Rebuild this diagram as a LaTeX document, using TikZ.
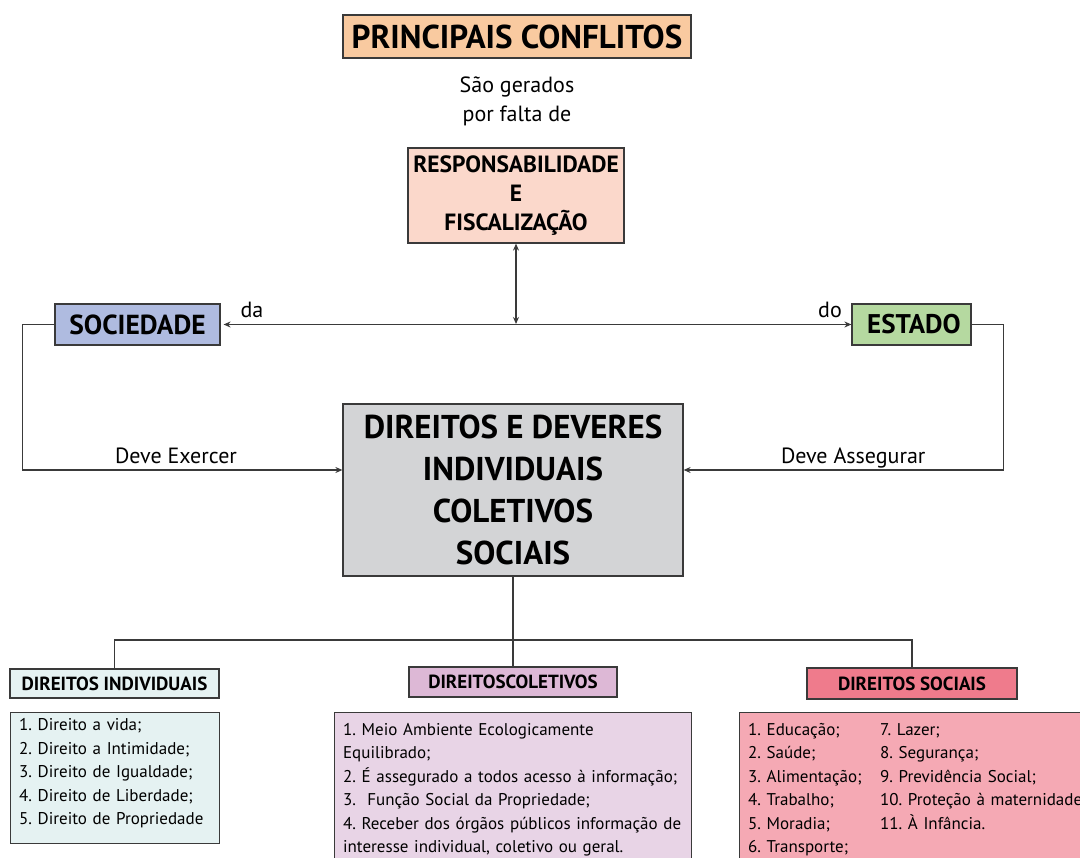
\documentclass[tikz,border=0pt]{standalone}
\usepackage{fontspec}
\setmainfont{PT Sans}
\frenchspacing
\usetikzlibrary{positioning,arrows.meta}
\definecolor{linegray}{HTML}{3A3A3A}
\definecolor{titlefill}{HTML}{F9CAA0}
\definecolor{respfill}{HTML}{FBD8CB}
\definecolor{socfill}{HTML}{AFBBE0}
\definecolor{estfill}{HTML}{B5D9A0}
\definecolor{mainfill}{HTML}{D3D4D6}
\definecolor{indfill}{HTML}{E5F2F2}
\definecolor{colfill}{HTML}{DDB8D6}
\definecolor{sochfill}{HTML}{EF7B8C}
\definecolor{collist}{HTML}{E8D4E6}
\definecolor{soclist}{HTML}{F5A9B4}
\begin{document}
\begin{tikzpicture}[x=1pt, y=-1pt,
  every node/.style = {inner sep=0pt},
  box/.style = {draw=linegray, line width=1.2pt, align=center, font=\bfseries},
  head/.style = {box, font=\bfseries\fontsize{19}{22}\selectfont},
  listbox/.style = {draw=linegray, line width=1.2pt, align=left, anchor=north west,
    inner xsep=8.5pt, inner ysep=5pt, font=\fontsize{17}{23.5}\selectfont},
  link/.style = {draw=linegray, line width=1.2pt},
  tip/.style = {-{Stealth[length=7pt,width=6pt]}},
  lbl/.style = {font=\fontsize{22}{29}\selectfont}]
 \useasboundingbox (0,0) rectangle (1080,858);
 \fill[white] (0,0) rectangle (1080,858);
 \clip (0,0) rectangle (1080,858);

 % top
 \node[box, fill=titlefill, minimum width=348pt, minimum height=43pt,
   font=\bfseries\fontsize{33}{36}\selectfont] (title) at (517,36.5) {PRINCIPAIS CONFLITOS};
 \node[lbl, align=center] (falta) at (517,101) {São gerados\\ por falta de};
 \node[box, fill=respfill, minimum width=216pt, minimum height=95pt,
   font=\bfseries\fontsize{23.5}{29}\selectfont] (resp) at (516,195.5)
   {RESPONSABILIDADE\\ E\\ FISCALIZAÇÃO};

 % sociedade / estado
 \node[box, fill=socfill, minimum width=165pt, minimum height=41pt,
   font=\bfseries\fontsize{27.5}{30}\selectfont] (soc) at (137.5,324.5) {SOCIEDADE};
 \node[box, fill=estfill, minimum width=119pt, minimum height=41pt,
   font=\bfseries\fontsize{27}{30}\selectfont] (est) at (911.5,324.5) {\hspace{5pt}ESTADO};
 \coordinate (mid) at (516,324);
 \draw[link, {Stealth[length=7pt,width=6pt]}-{Stealth[length=7pt,width=6pt]}]
   (resp) -- (mid);
 \draw[link, {Stealth[length=7pt,width=6pt]}-{Stealth[length=7pt,width=6pt]}, shorten <=3pt]
   (soc.east) -- (est.west);
 \node[lbl] (da) at (252,310) {da};
 \node[lbl] (do) at (830,310) {do};

 % centre
 \node[box, fill=mainfill, minimum width=340pt, minimum height=172pt,
   font=\bfseries\fontsize{33}{42}\selectfont] (main) at (513,490)
   {DIREITOS E DEVERES\\ INDIVIDUAIS\\ COLETIVOS\\ SOCIAIS};
 \draw[link, tip] (soc.west) -- ++(-32,0) |- ([yshift=20pt]main.west)
   node[lbl, pos=0.74, anchor=base, yshift=6pt] {Deve Exercer};
 \draw[link, tip] (est.east) -- ++(32,0) |- ([yshift=20pt]main.east)
   node[lbl, pos=0.735, anchor=base, yshift=6pt] {Deve Assegurar};

 % the three kinds of rights
 \node[head, fill=indfill, minimum width=209pt, minimum height=29pt] (hind) at (114.5,683.5) {DIREITOS INDIVIDUAIS};
 \node[head, fill=colfill, minimum width=208pt, minimum height=30pt] (hcol) at (513,682) {DIREITOSCOLETIVOS};
 \node[head, fill=sochfill, minimum width=210pt, minimum height=31pt] (hsoc) at (912,683.5) {DIREITOS SOCIAIS};
 \coordinate (split) at (513,640);
 \draw[link] (main.south) -- (split) -| (hind.north);
 \draw[link] (split) -| (hsoc.north);
 \draw[link] (split) -- (hcol.north);

 \node[listbox, fill=indfill, text width=192pt, inner ysep=6pt] (lind) at (10,712)
   {1. Direito a vida;\\ 2. Direito a Intimidade;\\ 3. Direito de Igualdade;\\
    4. Direito de Liberdade;\\ 5. Direito de Propriedade\rule[-13pt]{0pt}{1pt}};
 \node[listbox, fill=collist, text width=340pt, inner ysep=10.5pt] (lcol) at (334,712)
   {1. Meio Ambiente Ecologicamente\\ Equilibrado;\\
    2. É assegurado a todos acesso à informação;\\ 3.\ \ Função Social da Propriedade;\\
    4. Receber dos órgãos públicos informação de\\ interesse individual, coletivo ou geral.\rule[-12pt]{0pt}{1pt}};
 \node[listbox, fill=soclist, text width=360pt, inner ysep=6pt] (lsoc) at (739,712)
   {\begin{tabular}{@{}p{132pt}@{}l@{}}
    1. Educação; & 7. Lazer;\\
    2. Saúde; & 8. Segurança;\\
    3. Alimentação; & 9. Previdência Social;\\
    4. Trabalho; & 10. Proteção à maternidade;\\
    5. Moradia; & 11. À Infância.\\
    6. Transporte; &
   \end{tabular}};
\end{tikzpicture}
\end{document}
